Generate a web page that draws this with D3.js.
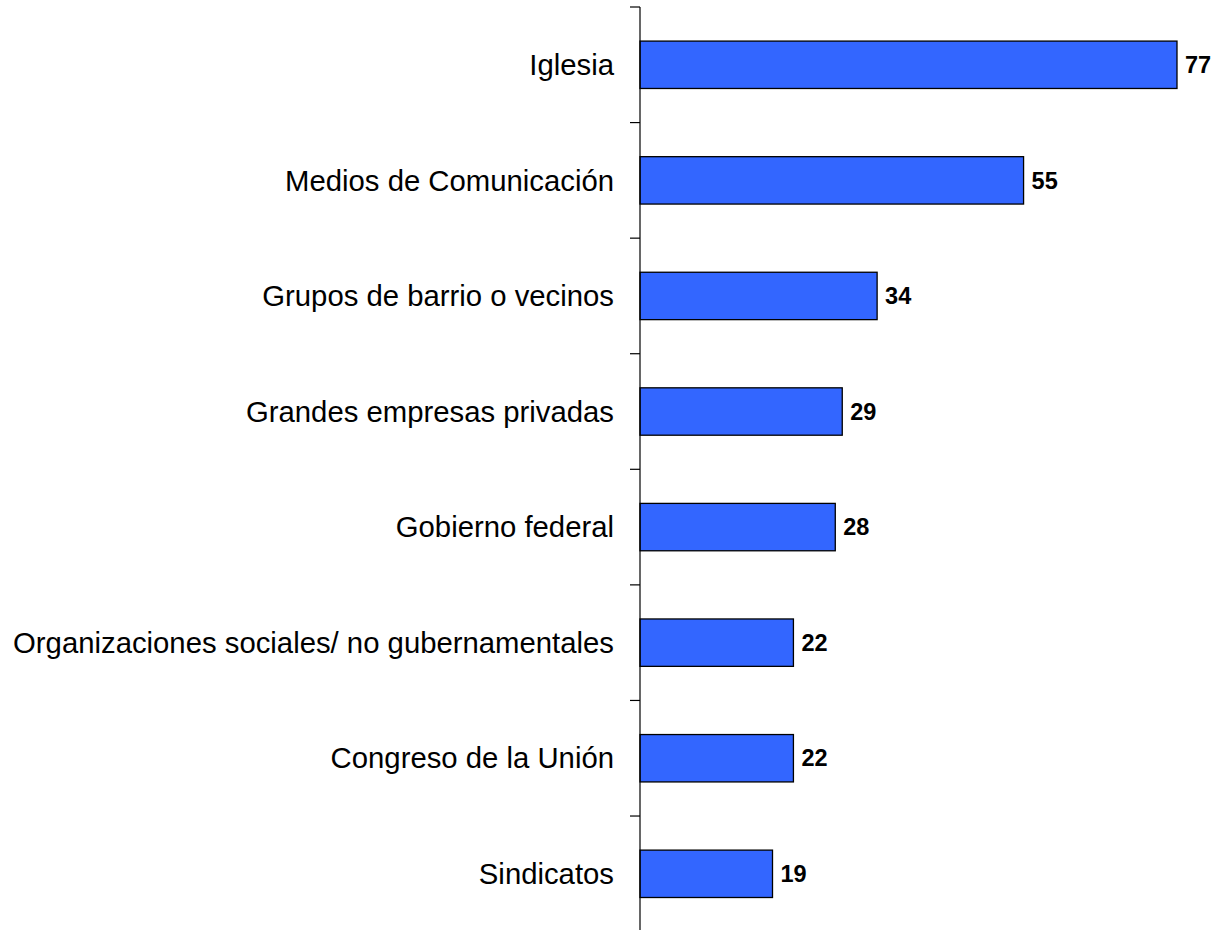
<!DOCTYPE html>
<html>
<head>
<meta charset="utf-8">
<script src="https://cdn.jsdelivr.net/npm/d3@7"></script>
<style>
  html, body { margin: 0; padding: 0; background: #fff; }
  svg { display: block; }
</style>
</head>
<body>
<script>
// Institutions and their percentage values
const categories = [
  "Iglesia",
  "Medios de Comunicación",
  "Grupos de barrio o vecinos",
  "Grandes empresas privadas",
  "Gobierno federal",
  "Organizaciones sociales/ no gubernamentales",
  "Congreso de la Unión",
  "Sindicatos"
];
const values = [77, 55, 34, 29, 28, 22, 22, 19];

const W = 1216, H = 930;
const axisX = 640;

const svg = d3.select("body").append("svg")
  .attr("width", W).attr("height", H);

const x = d3.scaleLinear().domain([0, 100]).range([axisX, axisX + 697.4]);
const y = d3.scaleBand().domain(categories).range([7, 931.6]).paddingInner(0.59).paddingOuter(0.295);

// Band boundaries for the category ticks
const step = y.step();
const y0 = 7;
const tickYs = d3.range(categories.length + 1).map(i => y0 + i * step);

// Bars
svg.append("g").selectAll("rect")
  .data(values)
  .join("rect")
  .attr("x", x(0))
  .attr("y", (d, i) => y(categories[i]))
  .attr("width", d => x(d) - x(0))
  .attr("height", y.bandwidth())
  .attr("fill", "#3366FF")
  .attr("stroke", "#000")
  .attr("stroke-width", 1.3);

// Value labels
svg.append("g").selectAll("text")
  .data(values)
  .join("text")
  .attr("x", d => x(d) + 8)
  .attr("y", (d, i) => y(categories[i]) + y.bandwidth() / 2)
  .attr("dy", "0.35em")
  .attr("font-family", "Liberation Sans, Arial, sans-serif")
  .attr("font-weight", "bold")
  .attr("font-size", 23.5)
  .attr("fill", "#000")
  .text(d => d);

// Category labels
svg.append("g").selectAll("text")
  .data(categories)
  .join("text")
  .attr("x", axisX - 26)
  .attr("y", d => y(d) + y.bandwidth() / 2)
  .attr("dy", "0.35em")
  .attr("text-anchor", "end")
  .attr("font-family", "Liberation Sans, Arial, sans-serif")
  .attr("font-size", 29.3)
  .attr("fill", "#000")
  .text(d => d);

// Vertical axis line and ticks
const ax = svg.append("g");
ax.append("line")
  .attr("x1", axisX).attr("x2", axisX)
  .attr("y1", y0).attr("y2", H + 5)
  .attr("stroke", "#000").attr("stroke-width", 1.2);
ax.selectAll("line.tick")
  .data(tickYs)
  .join("line")
  .attr("class", "tick")
  .attr("x1", axisX - 10).attr("x2", axisX)
  .attr("y1", d => d).attr("y2", d => d)
  .attr("stroke", "#000").attr("stroke-width", 1.2);
</script>
</body>
</html>
